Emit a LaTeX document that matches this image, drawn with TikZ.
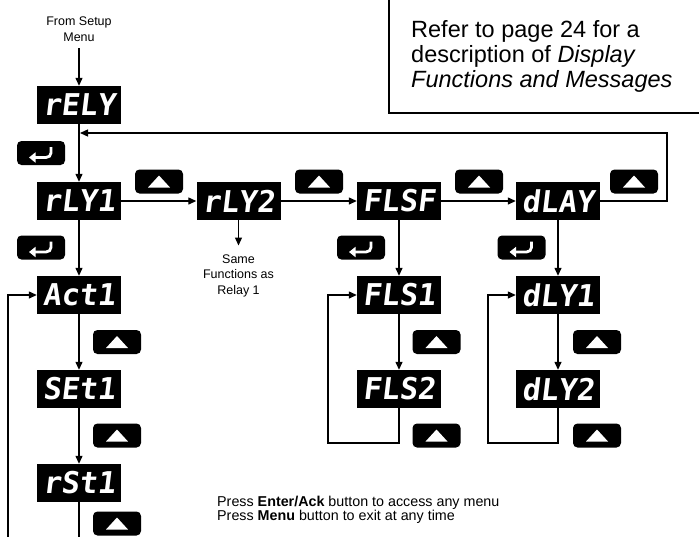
\documentclass[tikz,border=0pt]{standalone}
\usepackage{fontspec}
\setmainfont{Liberation Sans}
\newfontfamily\segfont[FakeSlant=0.12]{DejaVu Sans Mono}
\usetikzlibrary{arrows.meta}
\begin{document}
\begin{tikzpicture}[x=1pt,y=-1pt,
  disp/.style={rectangle, fill=black, minimum width=84pt, minimum height=38pt, inner sep=0pt,
    text=white, font=\segfont\bfseries\fontsize{30}{30}\selectfont},
  btnbase/.style={rectangle, rounded corners=4.5pt, fill=black, minimum width=48pt, minimum height=24pt, inner sep=0pt},
  upbtn/.style={btnbase, path picture={
    \fill[white, sharp corners, shift={(path picture bounding box.center)}]
      (-11pt,-6pt) -- (11pt,-6pt) -- (0pt,6pt) -- cycle;}},
  enterbtn/.style={btnbase, path picture={
    \draw[white, line width=2.8pt, sharp corners, shift={(path picture bounding box.center)},
      -{Triangle[length=6.5pt,width=10pt]}]
      (10pt,6pt) -- (10pt,0pt) to[out=-90,in=0] (5pt,-4.5pt) -- (-12pt,-4.5pt);}},
  conn/.style={draw, line width=1.3pt, -{Triangle[length=8pt,width=7pt]}},
  smalltxt/.style={inner sep=0pt, outer sep=0pt, align=center, font=\fontsize{12.5}{15.5}\selectfont},
]
\useasboundingbox (0,0) rectangle (699,536);
\clip (0,0) rectangle (699,536);

% note box
\draw[line width=1.3pt] (389,-10) rectangle (720,113);
\node[anchor=north west, inner sep=0pt, align=left, font=\fontsize{23.5}{25}\selectfont] (note) at (411,20)
  {Refer to page 24 for a\\description of \textit{Display}\\\textit{Functions and Messages}};

% displays
\node[disp] (rELY) at (79,105) {rELY};
\node[disp] (rLY1) at (79,201) {rLY1};
\node[disp] (rLY2) at (238.5,201) {rLY2};
\node[disp] (FLSF) at (399,201) {FLSF};
\node[disp] (dLAY) at (558,201) {dLAY};
\node[disp] (Act1) at (79,295) {Act1};
\node[disp] (SEt1) at (79,389) {SEt1};
\node[disp] (rSt1) at (79,483) {rSt1};
\node[disp] (FLS1) at (399,295) {FLS1};
\node[disp] (FLS2) at (399,389) {FLS2};
\node[disp] (dLY1) at (558,295) {dLY1};
\node[disp] (dLY2) at (558,389) {dLY2};

% buttons
\node[enterbtn] (e1) at (41,153) {};
\node[enterbtn] (e2) at (41,247.5) {};
\node[enterbtn] (e3) at (361,247.5) {};
\node[enterbtn] (e4) at (521.5,247.5) {};
\node[upbtn] (u1) at (159,181.5) {};
\node[upbtn] (u2) at (319,181.5) {};
\node[upbtn] (u3) at (479,181.5) {};
\node[upbtn] (u4) at (634,181.5) {};
\node[upbtn] (u5) at (117,342) {};
\node[upbtn] (u6) at (117,435.5) {};
\node[upbtn] (u7) at (117,523.5) {};
\node[upbtn] (u8) at (436.5,342) {};
\node[upbtn] (u9) at (436.5,435.5) {};
\node[upbtn] (u10) at (597,342) {};
\node[upbtn] (u11) at (597,435.5) {};

% texts
\node[smalltxt, anchor=south] (from) at (79,41.5) {From Setup\\Menu};
\node[smalltxt, anchor=north] (samefn) at (238.5,254.5) {Same\\Functions as\\Relay 1};
\node[anchor=north west, inner sep=0pt, align=left, font=\fontsize{14.3}{13.5}\selectfont] (press) at (217,496)
  {Press \textbf{Enter/Ack} button to access any menu\\Press \textbf{Menu} button to exit at any time};

% coordinates
\coordinate (topR) at (667,133);
\coordinate (topL) at (80,133);
\coordinate (flsA) at (328,443);
\coordinate (dlyA) at (488,443);
\coordinate (actA) at (8,548);

% connectors
\draw[conn] ([yshift=-6.5pt]from.south) -- (rELY.north);
\draw[conn] (rELY.south) -- (rLY1.north);
\draw[conn] (rLY1.east) -- (rLY2.west);
\draw[conn] (rLY2.east) -- (FLSF.west);
\draw[conn] (FLSF.east) -- (dLAY.west);
\draw[conn] (dLAY.east) -| (topR) -- (topL);
\draw[conn] (rLY2.south) -- ([yshift=9pt]samefn.north);
\draw[conn] (rLY1.south) -- (Act1.north);
\draw[conn] (Act1.south) -- (SEt1.north);
\draw[conn] (SEt1.south) -- (rSt1.north);
\draw[conn] (rSt1.south) |- (actA) |- (Act1.west);
\draw[conn] (FLSF.south) -- (FLS1.north);
\draw[conn] (FLS1.south) -- (FLS2.north);
\draw[conn] (FLS2.south) |- (flsA) |- (FLS1.west);
\draw[conn] (dLAY.south) -- (dLY1.north);
\draw[conn] (dLY1.south) -- (dLY2.north);
\draw[conn] (dLY2.south) |- (dlyA) |- (dLY1.west);
\end{tikzpicture}
\end{document}
